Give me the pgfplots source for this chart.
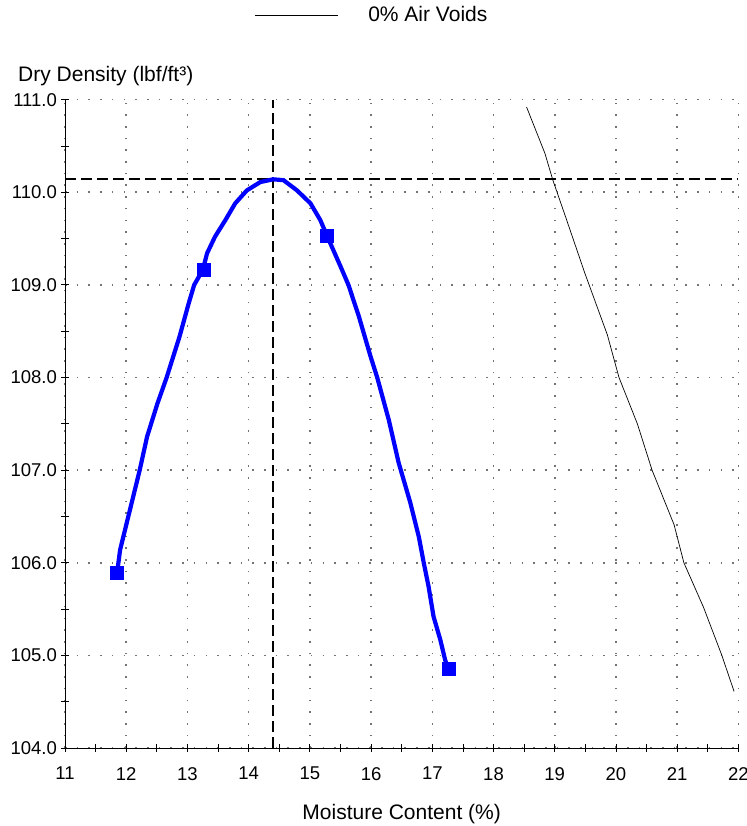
\documentclass[border=0pt]{standalone}
\usepackage{pgfplots}
\usepackage{pgfplotstable}
\pgfplotsset{compat=1.18}
\usepackage{fontspec}
\setmainfont{Liberation Sans}
\definecolor{fitblue}{RGB}{0,0,255}

% compaction curve
\pgfplotstableread{
w rho
11.85 105.89
11.90 106.14
12.09 106.65
12.22 107.00
12.34 107.36
12.51 107.72
12.66 108.00
12.87 108.44
13.02 108.80
13.11 109.00
13.25 109.16
13.32 109.34
13.45 109.52
13.62 109.70
13.78 109.88
13.97 110.02
14.19 110.11
14.40 110.14
14.57 110.13
14.79 110.02
15.01 109.88
15.17 109.70
15.28 109.53
15.50 109.20
15.63 109.00
15.80 108.66
15.99 108.23
16.10 108.00
16.29 107.54
16.45 107.08
16.64 106.65
16.78 106.28
16.86 106.00
16.94 105.74
17.02 105.42
17.13 105.17
17.21 104.95
17.26 104.86
}\fitcurve
\pgfplotstableread{
w rho
11.85 105.89
13.26 109.16
15.28 109.53
17.26 104.86
}\tests
\pgfplotstableread{
w rho
18.54 110.92
18.84 110.42
18.97 110.13
19.19 109.71
19.49 109.13
19.86 108.46
20.05 108.00
20.35 107.50
20.59 107.00
20.95 106.41
21.11 106.00
21.43 105.52
21.73 105.00
21.93 104.61
}\zav

\begin{document}
\begin{tikzpicture}
\begin{axis}[
  name=ax,
  width=673bp, height=648bp, scale only axis,
  xmin=11, xmax=22, ymin=104, ymax=111,
  xtick={11,...,22}, ytick={104,...,111},
  minor xtick={11.5,12.5,...,21.5},
  minor ytick={104.5,105.5,...,110.5},
  axis x line*=bottom, axis y line*=left,
  axis line style={black, line width=0.8bp},
  tick align=center, major tick length=8bp, minor tick length=8bp,
  tick style={black, line width=0.8bp},
  grid=major,
  major grid style={black!55, line width=1.6bp, dash pattern=on 1.6bp off 10.1bp},
  /pgf/number format/assume math mode=true,
  yticklabel style={/pgf/number format/fixed, /pgf/number format/fixed zerofill,
    /pgf/number format/precision=1, xshift=-4bp},
  tick label style={font=\fontsize{18.5bp}{22bp}\selectfont, inner sep=0pt},
  xticklabel style={yshift=-15bp},
  xlabel={Moisture Content (\%)},
  xlabel style={font=\fontsize{21bp}{25bp}\selectfont, inner sep=0pt,
    at={(axis description cs:0.5,0)}, anchor=base, yshift=-72bp},
  ylabel={Dry Density (lbf/ft³)},
  ylabel style={font=\fontsize{21bp}{25bp}\selectfont, inner sep=0pt, rotate=-90,
    at={(axis description cs:0,1)}, anchor=base west, xshift=-47bp, yshift=18.6bp},
  legend style={at={(axis description cs:0.281,1.1305)}, anchor=west,
    draw=none, fill=none, inner sep=0pt, column sep=30bp,
    font=\fontsize{21bp}{25bp}\selectfont, nodes={inner sep=0pt}},
  legend image code/.code={\draw[black, line width=0.8bp] (0bp,0bp) -- (83bp,0bp);},
  clip=false,
]
\addplot[black, line width=0.7bp] table[x=w, y=rho] {\zav};
\addlegendentry{0\% Air Voids}
\addplot[black, line width=2.2bp, dash pattern=on 11bp off 5bp, forget plot]
  coordinates {(11,110.14) (22,110.14)};
\addplot[black, line width=2.2bp, dash pattern=on 11bp off 5bp, forget plot]
  coordinates {(14.40,104) (14.40,111)};
\addplot[fitblue, line width=4.2bp, forget plot] table[x=w, y=rho] {\fitcurve};
\addplot[only marks, mark=square*, mark size=6.5bp, fitblue, forget plot]
  table[x=w, y=rho] {\tests};
\coordinate (bl) at (rel axis cs:0,0);
\coordinate (tr) at (rel axis cs:1,1);
\end{axis}
\pgfresetboundingbox
\path ([shift={(-65bp,-78bp)}]bl) rectangle ([shift={(8bp,99.6bp)}]tr);
\end{tikzpicture}
\end{document}
